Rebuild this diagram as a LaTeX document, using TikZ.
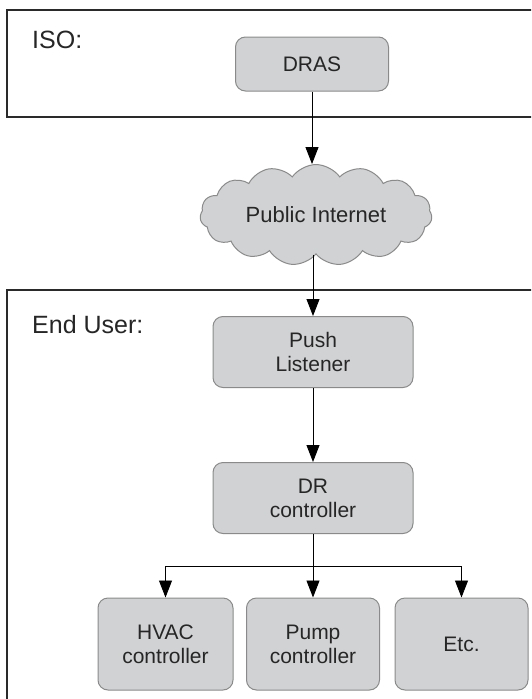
\documentclass[tikz,border=0pt]{standalone}
\usepackage{fontspec}
\setmainfont{Liberation Sans}
\usetikzlibrary{shapes.symbols,arrows.meta}
\definecolor{boxfill}{HTML}{D1D2D4}
\definecolor{boxline}{HTML}{8A8A8A}
\definecolor{frameline}{HTML}{2A2A2A}
\tikzset{
  unit/.style={draw=boxline, fill=boxfill, line width=1pt, rounded corners=10pt,
    align=center, font=\fontsize{21}{24}\selectfont, text=black!85},
  frame/.style={draw=frameline, line width=2pt},
  lbl/.style={anchor=base west, font=\fontsize{25}{30}\selectfont, text=black!85, inner sep=0pt},
  conn/.style={-{Triangle[length=17pt,width=13pt]}, line width=0.9pt, black}
}
\begin{document}
\begin{tikzpicture}[x=1pt,y=-1pt]
\useasboundingbox (0,0) rectangle (531,699);
\begin{scope}
\clip (0,0) rectangle (531,699);
\draw[frame] (7,10) rectangle (545,117);
\draw[frame] (7,290) rectangle (545,720);
\end{scope}
\node[lbl] (iso) at (32,48) {ISO:};
\node[lbl] (enduser) at (32,333) {End User:};
\node[unit, minimum width=153pt, minimum height=54pt] (dras) at (312,64) {DRAS};
\node[cloud, cloud puffs=15, cloud puff arc=110, draw=boxline, fill=boxfill, line width=1pt,
  minimum width=232pt, minimum height=82pt, aspect=2.6,
  font=\fontsize{22}{26}\selectfont, text=black!85] (cloud) at (316,215) {Public Internet};
\node[unit, minimum width=200pt, minimum height=71pt] (push) at (313,352) {Push\\Listener};
\node[unit, minimum width=200pt, minimum height=71pt] (dr) at (313,498) {DR\\controller};
\node[unit, minimum width=135pt, minimum height=92pt] (hvac) at (165.5,644) {HVAC\\controller};
\node[unit, minimum width=133pt, minimum height=92pt] (pump) at (313,644) {Pump\\controller};
\node[unit, minimum width=133pt, minimum height=92pt] (etc) at (461.5,644) {Etc.};
\coordinate (split) at (313,566);
\draw[conn] (dras.south) -- (dras.south |- cloud.north);
\draw[conn] (cloud.south -| push.north) -- (push.north);
\draw[conn] (push.south) -- (dr.north);
\draw[line width=0.9pt] (dr.south) -- (split);
\draw[conn] (split) -- (pump.north);
\draw[conn] (split) -| (hvac.north);
\draw[conn] (split) -| (etc.north);
\end{tikzpicture}
\end{document}
